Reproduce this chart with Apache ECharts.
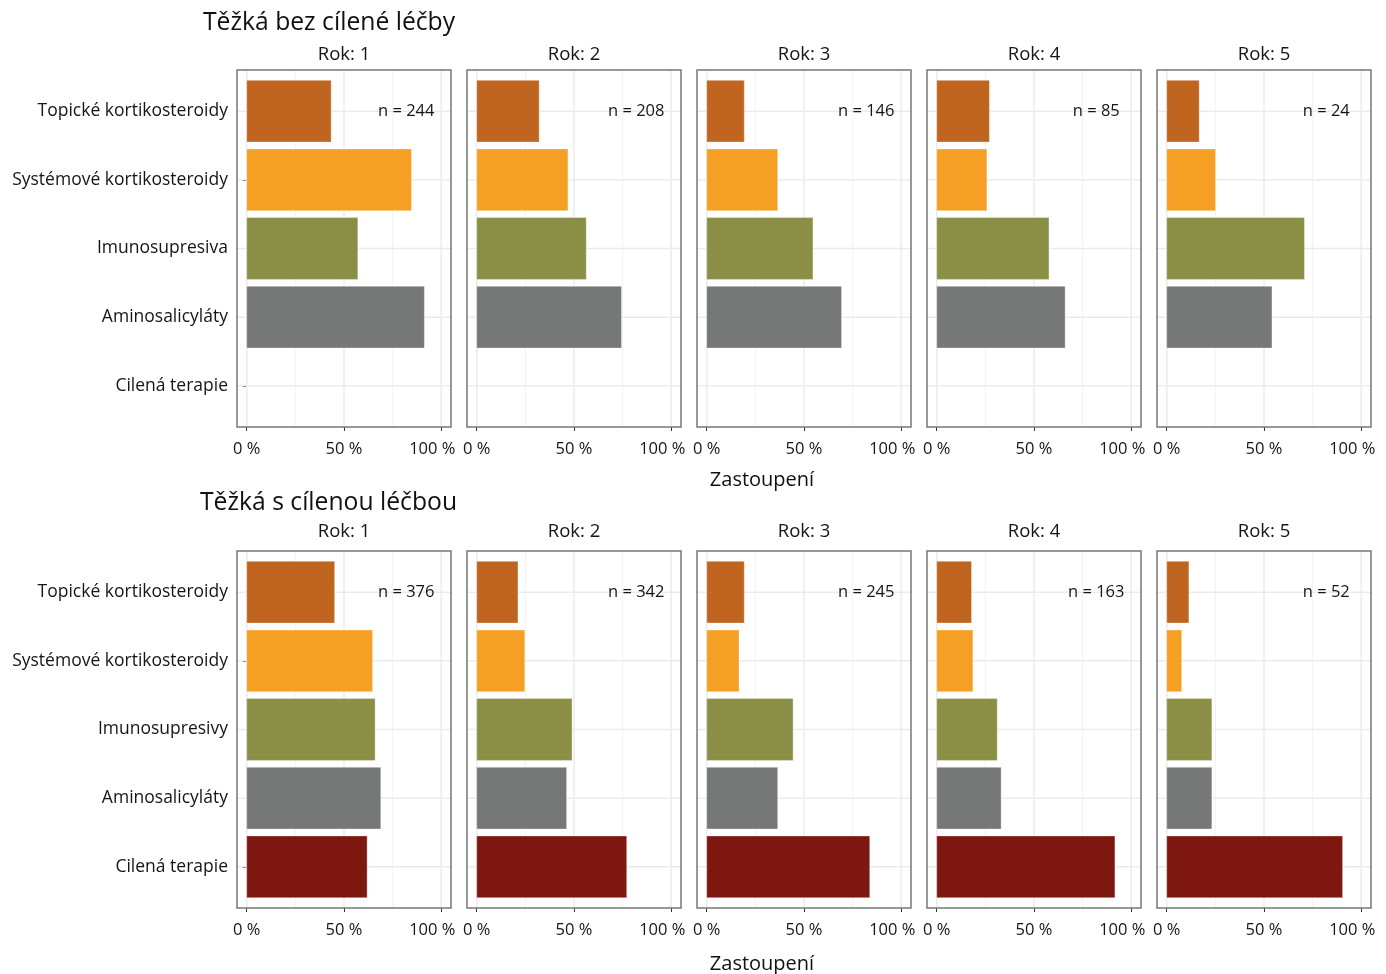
<!DOCTYPE html>
<html>
<head>
<meta charset="utf-8">
<script src="https://cdn.jsdelivr.net/npm/echarts@6/dist/echarts.min.js"></script>
<style>
  html, body { margin: 0; padding: 0; background: #fff; }
  #chart { width: 1386px; height: 974px; }
</style>
</head>
<body>
<div id="chart"></div>
<script>
// Facet labels
const years = ['Rok: 1', 'Rok: 2', 'Rok: 3', 'Rok: 4', 'Rok: 5'];
const sectionTitles = ['Těžká bez cílené léčby', 'Těžká s cílenou léčbou'];
const axisTitle = 'Zastoupení';

// Treatment categories (top to bottom)
const drugsTop = ['Topické kortikosteroidy', 'Systémové kortikosteroidy', 'Imunosupresiva', 'Aminosalicyláty', 'Cilená terapie'];
const drugsBottom = ['Topické kortikosteroidy', 'Systémové kortikosteroidy', 'Imunosupresivy', 'Aminosalicyláty', 'Cilená terapie'];

// Patient counts per year
const nTop = [244, 208, 146, 85, 24];
const nBottom = [376, 342, 245, 163, 52];

// Shares per year (Rok 1..5) – without targeted therapy
const topTopicke   = [0.434, 0.321, 0.193, 0.271, 0.167];
const topSystemove = [0.847, 0.469, 0.365, 0.258, 0.251];
const topImuno     = [0.571, 0.563, 0.546, 0.577, 0.708];
const topAmino     = [0.913, 0.744, 0.693, 0.660, 0.541];
const topCilena    = [0, 0, 0, 0, 0];

// Shares per year (Rok 1..5) – with targeted therapy
const botTopicke   = [0.452, 0.212, 0.193, 0.179, 0.114];
const botSystemove = [0.647, 0.247, 0.166, 0.186, 0.077];
const botImuno     = [0.660, 0.490, 0.444, 0.311, 0.232];
const botAmino     = [0.689, 0.462, 0.365, 0.331, 0.232];
const botCilena    = [0.619, 0.771, 0.838, 0.916, 0.904];

// X axis tick values and their labels
const xTicks = [0, 0.5, 1];
const xTickLabels = ['0 %', '50 %', '100 %'];

const colors = ['#C0651F', '#F5A024', '#8A8F45', '#767777', '#7F1711'];
const FONT = 'Open Sans';
const TEXT = '#151515';

const sections = [
  { drugs: drugsTop, n: nTop, values: [topTopicke, topSystemove, topImuno, topAmino, topCilena] },
  { drugs: drugsBottom, n: nBottom, values: [botTopicke, botSystemove, botImuno, botAmino, botCilena] }
];

// Panel layout
const panelLeft0 = 237, panelStep = 230, panelW = 214, panelH = 357;
const panelTops = [70, 551];
const stripY = [55, 532];
const axisTitleY = [480, 964];
const titlePos = [[203, 23], [200, 503]];

const grids = [], xAxes = [], yAxes = [], series = [], graphics = [];

sections.forEach((sec, s) => {
  years.forEach((yr, k) => {
    const gi = grids.length;
    const left = panelLeft0 + panelStep * k;
    grids.push({ left: left, top: panelTops[s], width: panelW, height: panelH, show: false });

    xAxes.push({
      gridIndex: gi, type: 'value', min: -0.05, max: 1.05,
      axisLine: { show: false },
      splitLine: { show: false },
      axisTick: { show: true, customValues: xTicks, length: 4, lineStyle: { color: '#333', width: 1 } },
      axisLabel: {
        show: true, customValues: xTicks, margin: 14,
        formatter: v => {
          const i = xTicks.indexOf(Math.round(v * 100) / 100);
          // the last label is nudged left so it clears the next panel
          return i === xTicks.length - 1 ? '{end|' + xTickLabels[i] + '}' : xTickLabels[i];
        },
        rich: { end: { padding: [0, 18, 0, 0], fontFamily: FONT, fontSize: 16.5, color: TEXT } },
        fontFamily: FONT, fontSize: 16.5, color: TEXT
      }
    });

    yAxes.push({
      gridIndex: gi, type: 'value', min: 0.4, max: 5.6, inverse: true,
      axisLine: { show: false },
      splitLine: { show: false },
      axisTick: { show: k === 0, customValues: [1, 2, 3, 4, 5], length: 4, lineStyle: { color: '#333', width: 1 } },
      axisLabel: {
        show: k === 0, customValues: [1, 2, 3, 4, 5], margin: 9,
        formatter: v => sec.drugs[Math.round(v) - 1],
        fontFamily: FONT, fontSize: 17.5, color: TEXT
      }
    });

    // Grid lines and panel frame
    series.push({
      type: 'custom', xAxisIndex: gi, yAxisIndex: gi, silent: true, z: 1,
      data: [[0, 0]],
      renderItem: (params, api) => {
        const children = [];
        const y0 = api.coord([0, 0.4])[1], y1 = api.coord([0, 5.6])[1];
        const x0 = api.coord([-0.05, 1])[0], x1 = api.coord([1.05, 1])[0];
        [0.25, 0.75].forEach(v => {
          const x = api.coord([v, 1])[0];
          children.push({ type: 'line', shape: { x1: x, y1: y0, x2: x, y2: y1 }, style: { stroke: '#f2f2f2', lineWidth: 1 } });
        });
        [0, 0.5, 1].forEach(v => {
          const x = api.coord([v, 1])[0];
          children.push({ type: 'line', shape: { x1: x, y1: y0, x2: x, y2: y1 }, style: { stroke: '#ebebeb', lineWidth: 1.5 } });
        });
        [1, 2, 3, 4, 5].forEach(c => {
          const y = api.coord([0, c])[1];
          children.push({ type: 'line', shape: { x1: x0, y1: y, x2: x1, y2: y }, style: { stroke: '#ebebeb', lineWidth: 1.5 } });
        });
        children.push({ type: 'rect', shape: { x: x0, y: y0, width: x1 - x0, height: y1 - y0 },
          style: { fill: 'none', stroke: '#777', lineWidth: 1.5 } });
        return { type: 'group', children: children };
      }
    });

    // Bars
    const barData = sec.values.map((arr, c) => [arr[k], c + 1, c]);
    series.push({
      type: 'custom', xAxisIndex: gi, yAxisIndex: gi, z: 2,
      data: barData,
      renderItem: (params, api) => {
        const v = api.value(0), c = api.value(1), ci = api.value(2);
        if (!v) return null;
        const p0 = api.coord([0, c - 0.45]);
        const p1 = api.coord([v, c + 0.45]);
        return {
          type: 'rect',
          shape: { x: p0[0], y: p0[1], width: p1[0] - p0[0], height: p1[1] - p0[1] },
          style: { fill: colors[ci], stroke: 'rgba(255,255,255,0.35)', lineWidth: 1 }
        };
      }
    });

    // Sample size label
    series.push({
      type: 'custom', xAxisIndex: gi, yAxisIndex: gi, z: 3, silent: true,
      data: [[0.82, 1, sec.n[k]]],
      renderItem: (params, api) => {
        const p = api.coord([api.value(0), api.value(1)]);
        return {
          type: 'text', x: p[0], y: p[1],
          style: { text: 'n = ' + api.value(2), textAlign: 'center', textVerticalAlign: 'middle',
            fontFamily: FONT, fontSize: 16.5, fill: TEXT }
        };
      }
    });

    // Facet strip label
    graphics.push({
      type: 'text', x: left + panelW / 2, y: stripY[s],
      style: { text: yr, textAlign: 'center', textVerticalAlign: 'middle', fontFamily: FONT, fontSize: 18.5, fill: TEXT }
    });
  });

  // Section title
  graphics.push({
    type: 'text', x: titlePos[s][0], y: titlePos[s][1],
    style: { text: sectionTitles[s], textAlign: 'left', textVerticalAlign: 'middle', fontFamily: FONT, fontSize: 24.7, fill: '#111' }
  });
  // Axis title
  graphics.push({
    type: 'text', x: 762, y: axisTitleY[s],
    style: { text: axisTitle, textAlign: 'center', textVerticalAlign: 'middle', fontFamily: FONT, fontSize: 20, fill: '#111' }
  });
});

const chart = echarts.init(document.getElementById('chart'), null, { renderer: 'canvas' });
chart.setOption({
  backgroundColor: '#fff',
  animation: false,
  grid: grids,
  xAxis: xAxes,
  yAxis: yAxes,
  series: series,
  graphic: graphics
});
</script>
</body>
</html>
